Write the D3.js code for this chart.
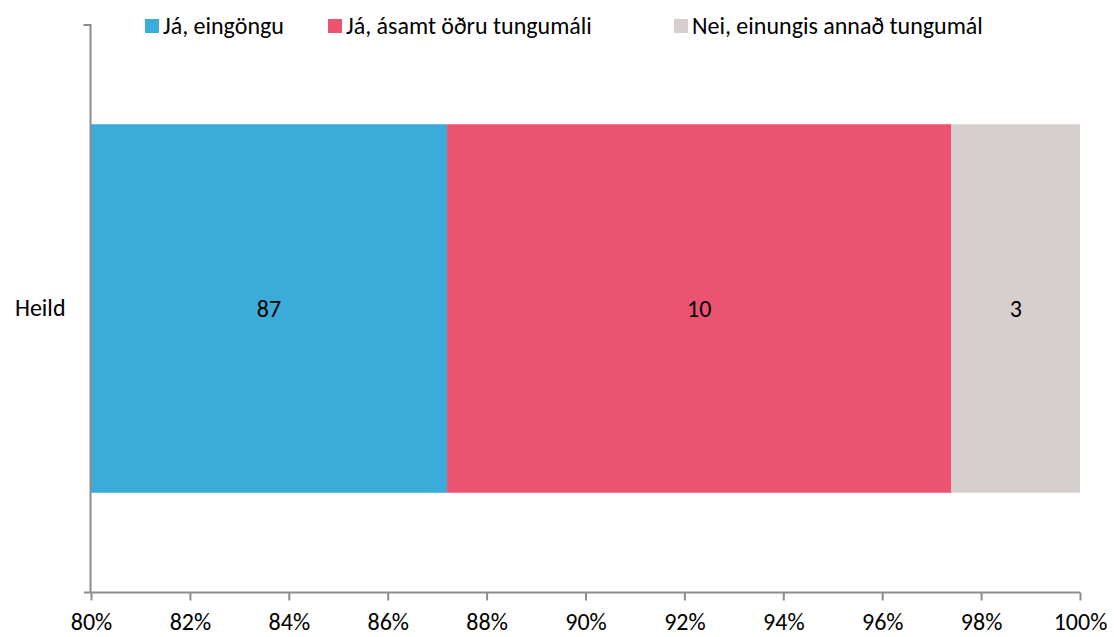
<!DOCTYPE html>
<html>
<head>
<meta charset="utf-8">
<script src="https://cdn.jsdelivr.net/npm/d3@7"></script>
<style>
  body { margin: 0; background: #fff; }
  text { font-family: Carlito, Lato, "Open Sans", sans-serif; }
</style>
</head>
<body>
<div id="chart"></div>
<script>
// data
const categories = ["Heild"]
const seriesNames = ["Já, eingöngu", "Já, ásamt öðru tungumáli", "Nei, einungis annað tungumál"]
const seriesValues = [[87.2], [10.2], [2.6]]
const seriesLabels = [["87"], ["10"], ["3"]]
const xTicks = [80, 82, 84, 86, 88, 90, 92, 94, 96, 98, 100]
const colors = ["#3BACD9", "#EB5370", "#D7CFCD"]

const width = 1114, height = 637
const margin = {top: 25, right: 34, bottom: 45, left: 91}
const fontSize = 24

const svg = d3.select("#chart").append("svg")
    .attr("width", width)
    .attr("height", height)

const x = d3.scaleLinear()
    .domain([80, 100])
    .range([margin.left, width - margin.right])

const y = d3.scaleBand()
    .domain(categories)
    .range([margin.top, height - margin.bottom])
    .paddingInner(0.35)
    .paddingOuter(0.175)

// stack; the first series starts at the axis minimum (80%)
const rows = categories.map((c, i) => {
  const r = {cat: c}
  seriesNames.forEach((s, j) => r[s] = seriesValues[j][i])
  return r
})
const stacked = d3.stack().keys(seriesNames)(rows)
const x0 = d => x(d[0] === 0 ? 80 : d[0])
const x1 = d => x(Math.min(100, d[1]))

const layer = svg.selectAll("g.layer")
  .data(stacked)
  .join("g")
    .attr("class", "layer")
    .attr("fill", (d, i) => colors[i])

layer.selectAll("rect")
  .data(d => d)
  .join("rect")
    .attr("x", x0)
    .attr("y", d => y(d.data.cat))
    .attr("width", d => x1(d) - x0(d))
    .attr("height", y.bandwidth())

// value labels
layer.each(function(s, j) {
  d3.select(this).selectAll("text")
    .data(s)
    .join("text")
      .attr("x", d => (x0(d) + x1(d)) / 2)
      .attr("y", d => y(d.data.cat) + y.bandwidth() / 2)
      .attr("dy", "0.35em")
      .attr("text-anchor", "middle")
      .attr("font-size", fontSize)
      .attr("fill", "#000")
      .text((d, i) => seriesLabels[j][i])
})

const axisColor = "#8C8C8C"

// x axis
const xAxis = svg.append("g")
    .attr("transform", `translate(0,${height - margin.bottom + 0.5})`)
    .call(d3.axisBottom(x).tickValues(xTicks).tickFormat(d => d + "%").tickSize(8).tickSizeOuter(0))
xAxis.select(".domain").attr("stroke", axisColor).attr("stroke-width", 2)
  .attr("d", `M${margin.left - 7},0H${width - margin.right}`)
xAxis.selectAll(".tick line").attr("stroke", axisColor).attr("stroke-width", 2)
xAxis.selectAll(".tick text")
    .attr("font-size", fontSize).attr("fill", "#000")
    .attr("y", 37.5).attr("dy", 0)

// y axis
const yAxis = svg.append("g")
    .attr("transform", `translate(${margin.left - 0.5},0)`)
    .call(d3.axisLeft(y).tickSize(0).tickPadding(25))
yAxis.select(".domain").attr("stroke", axisColor).attr("stroke-width", 2)
  .attr("d", `M-7,${margin.top}H0V${height - margin.bottom}`)
yAxis.selectAll(".tick text").attr("font-size", fontSize).attr("fill", "#000")

// legend
const legendX = [145, 328, 674]
const legend = svg.append("g")
const item = legend.selectAll("g")
  .data(seriesNames)
  .join("g")
    .attr("transform", (d, i) => `translate(${legendX[i]},19)`)
item.append("rect")
    .attr("width", 14)
    .attr("height", 14)
    .attr("fill", (d, i) => colors[i])
item.append("text")
    .attr("x", 18)
    .attr("y", 15)
    .attr("font-size", fontSize)
    .attr("fill", "#000")
    .text(d => d)
</script>
</body>
</html>
